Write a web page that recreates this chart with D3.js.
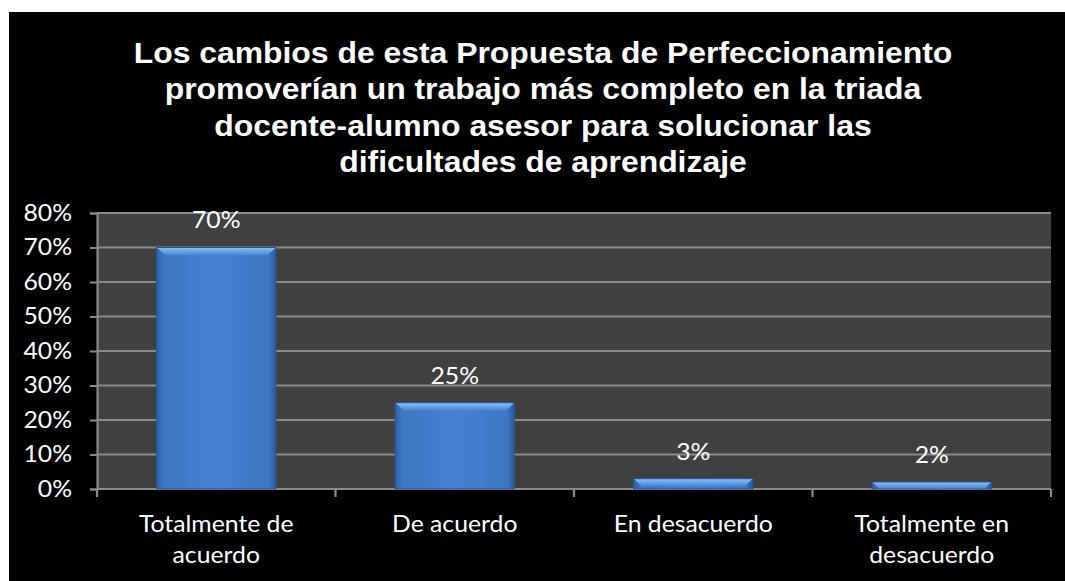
<!DOCTYPE html>
<html>
<head>
<meta charset="utf-8">
<script src="https://cdn.jsdelivr.net/npm/d3@7"></script>
<style>
  html, body { margin: 0; padding: 0; background: #fff; }
  svg { display: block; }
</style>
</head>
<body>
<svg id="chart" width="1065" height="581"></svg>
<script>
// chart data
const titleLines = [
  'Los cambios de esta Propuesta de Perfeccionamiento',
  'promoverían un trabajo más completo en la triada',
  'docente-alumno asesor para solucionar las',
  'dificultades de aprendizaje',
];
const categories = ['Totalmente de acuerdo', 'De acuerdo', 'En desacuerdo', 'Totalmente en desacuerdo'];
const categoryLines = [['Totalmente de', 'acuerdo'], ['De acuerdo'], ['En desacuerdo'], ['Totalmente en', 'desacuerdo']];
const values = [0.70, 0.25, 0.03, 0.02];
const yTicks = [0, 0.1, 0.2, 0.3, 0.4, 0.5, 0.6, 0.7, 0.8];

// the original picture is stretched sideways, so draw in a narrower space and scale x
const SX = 1.1;
const W = 1065 / SX;
const plot = { left: 97 / SX, right: 1051 / SX, top: 213, bottom: 489 };
const labelFont = 'Lato, "Open Sans", sans-serif';
const labelSize = '22.5px';

const svg = d3.select('#chart');
const g = svg.append('g').attr('transform', `scale(${SX},1)`);

const defs = svg.append('defs');
const grad = defs.append('linearGradient')
  .attr('id', 'barFill')
  .attr('x1', 0).attr('x2', 1).attr('y1', 0).attr('y2', 0);
grad.append('stop').attr('offset', '0%').attr('stop-color', '#2f5f9f');
grad.append('stop').attr('offset', '6%').attr('stop-color', '#3e78c4');
grad.append('stop').attr('offset', '50%').attr('stop-color', '#4381d0');
grad.append('stop').attr('offset', '94%').attr('stop-color', '#3e78c4');
grad.append('stop').attr('offset', '100%').attr('stop-color', '#2c5894');

const topGrad = defs.append('linearGradient')
  .attr('id', 'barTop')
  .attr('x1', 0).attr('x2', 0).attr('y1', 0).attr('y2', 1);
topGrad.append('stop').attr('offset', '0%').attr('stop-color', '#86bcf7');
topGrad.append('stop').attr('offset', '100%').attr('stop-color', '#4a88d6');

// black background
g.append('rect')
  .attr('x', 9 / SX).attr('y', 12)
  .attr('width', W - 9 / SX).attr('height', 581 - 12)
  .attr('fill', '#000');

// title
g.append('text')
  .attr('text-anchor', 'middle')
  .attr('fill', '#fff')
  .style('font-family', '"Liberation Sans", Arial, sans-serif')
  .style('font-weight', 'bold')
  .style('font-size', '29px')
  .selectAll('tspan')
  .data(titleLines)
  .join('tspan')
  .attr('x', 543 / SX)
  .attr('y', (d, i) => 63 + i * 36.4)
  .text((d) => d);

const x = d3.scaleBand()
  .domain(categories)
  .range([plot.left, plot.right])
  .paddingInner(0.5)
  .paddingOuter(0.25);

const y = d3.scaleLinear()
  .domain([0, 0.8])
  .range([plot.bottom, plot.top]);

// plot area
g.append('rect')
  .attr('x', plot.left).attr('y', plot.top)
  .attr('width', plot.right - plot.left).attr('height', plot.bottom - plot.top)
  .attr('fill', '#404040');

// gridlines
g.append('g')
  .selectAll('line')
  .data(yTicks.slice(1))
  .join('line')
  .attr('x1', plot.left).attr('x2', plot.right)
  .attr('y1', (d) => y(d)).attr('y2', (d) => y(d))
  .attr('stroke', '#8a8a8a')
  .attr('stroke-width', 2);

// y axis
const yAxis = g.append('g')
  .attr('transform', `translate(${plot.left},0)`)
  .call(d3.axisLeft(y).tickValues(yTicks).tickFormat(d3.format('.0%')).tickSize(7 / SX).tickPadding(18 / SX));
yAxis.select('.domain').attr('stroke', '#8a8a8a').attr('stroke-width', 2);
yAxis.selectAll('.tick line').attr('stroke', '#8a8a8a').attr('stroke-width', 2);
yAxis.selectAll('.tick text')
  .attr('fill', '#fff')
  .style('font-family', labelFont)
  .style('font-size', labelSize);

// x axis baseline and boundary ticks
const step = x.step();
const bounds = d3.range(categories.length + 1).map((i) => plot.left + i * step);
g.append('line')
  .attr('x1', plot.left).attr('x2', plot.right)
  .attr('y1', plot.bottom).attr('y2', plot.bottom)
  .attr('stroke', '#8a8a8a').attr('stroke-width', 2);
g.append('g')
  .selectAll('line')
  .data(bounds)
  .join('line')
  .attr('x1', (d) => d).attr('x2', (d) => d)
  .attr('y1', plot.bottom).attr('y2', plot.bottom + 8)
  .attr('stroke', '#8a8a8a').attr('stroke-width', 2);

// bars with a bevelled top edge
const bars = g.append('g')
  .selectAll('g')
  .data(values)
  .join('g');
bars.append('rect')
  .attr('x', (d, i) => x(categories[i]))
  .attr('y', (d) => y(d))
  .attr('width', x.bandwidth())
  .attr('height', (d) => y(0) - y(d))
  .attr('fill', 'url(#barFill)')
  .attr('stroke', '#2a5590')
  .attr('stroke-width', 1);
bars.append('path')
  .attr('d', (d, i) => {
    const x0 = x(categories[i]) + 0.5;
    const x1 = x0 + x.bandwidth() - 1;
    const y0 = y(d) + 0.5;
    const h = Math.min(7, y(0) - y(d) - 1);
    const b = Math.min(7, h);
    return `M${x0},${y0}H${x1}L${x1 - b},${y0 + h}H${x0 + b}Z`;
  })
  .attr('fill', 'url(#barTop)');

// value labels
g.append('g')
  .selectAll('text')
  .data(values)
  .join('text')
  .attr('x', (d, i) => x(categories[i]) + x.bandwidth() / 2)
  .attr('y', (d) => y(d) - 19)
  .attr('text-anchor', 'middle')
  .attr('fill', '#fff')
  .style('font-family', labelFont)
  .style('font-size', labelSize)
  .text((d) => d3.format('.0%')(d));

// category labels
g.append('g')
  .selectAll('text')
  .data(categories)
  .join('text')
  .attr('text-anchor', 'middle')
  .attr('fill', '#fff')
  .style('font-family', labelFont)
  .style('font-size', labelSize)
  .each(function (d, i) {
    d3.select(this).selectAll('tspan')
      .data(categoryLines[i])
      .join('tspan')
      .attr('x', x(d) + x.bandwidth() / 2)
      .attr('y', (t, j) => 532 + j * 31)
      .text((t) => t);
  });
</script>
</body>
</html>
